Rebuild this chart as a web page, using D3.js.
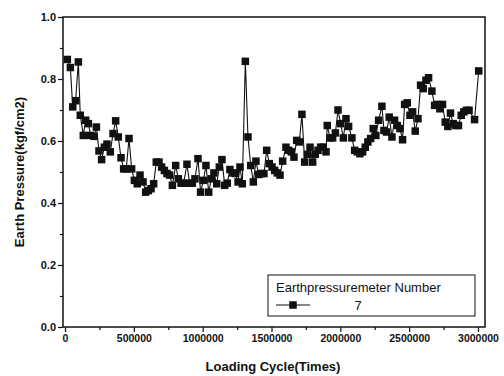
<!DOCTYPE html>
<html>
<head>
<meta charset="utf-8">
<script src="https://cdn.jsdelivr.net/npm/d3@7"></script>
<style>
  body { margin: 0; background: #fff; }
  svg { display: block; font-family: 'Liberation Sans', Arial, sans-serif; }
</style>
</head>
<body>
<div id="chart"></div>
<script>
// Loading cycles (times)
const cycles = [
  17000, 39000, 56000, 77000, 97000, 111000, 133000, 150000, 170000, 186000,
  211000, 228000, 247000, 266000, 286000, 305000, 329000, 349000, 368000, 387000,
  407000, 426000, 445000, 465000, 484000, 504000, 525000, 545000, 567000, 586000,
  605000, 625000, 644000, 663000, 683000, 702000, 722000, 741000, 760000, 780000,
  804000, 823000, 843000, 862000, 886000, 905000, 925000, 944000, 966000, 985000,
  1005000, 1024000, 1044000, 1063000, 1082000, 1102000, 1121000, 1140000, 1160000, 1179000,
  1198000, 1218000, 1237000, 1257000, 1271000, 1288000, 1310000, 1329000, 1349000, 1368000,
  1387000, 1407000, 1426000, 1445000, 1465000, 1484000, 1504000, 1523000, 1542000, 1562000,
  1581000, 1605000, 1625000, 1644000, 1663000, 1683000, 1702000, 1721000, 1741000, 1760000,
  1780000, 1799000, 1818000, 1838000, 1857000, 1876000, 1896000, 1905000, 1925000, 1944000,
  1964000, 1983000, 2002000, 2022000, 2041000, 2060000, 2084000, 2104000, 2123000, 2142000,
  2162000, 2181000, 2200000, 2220000, 2239000, 2258000, 2278000, 2302000, 2317000, 2336000,
  2355000, 2375000, 2394000, 2413000, 2433000, 2452000, 2467000, 2486000, 2506000, 2525000,
  2544000, 2564000, 2583000, 2602000, 2622000, 2641000, 2665000, 2685000, 2704000, 2723000,
  2742000, 2762000, 2781000, 2800000, 2820000, 2839000, 2858000, 2878000, 2897000, 2916000,
  2935000, 2975000, 3005000
];

// Earth pressure (kgf/cm2), meter number 7
const pressure = [
  0.863, 0.837, 0.710, 0.730, 0.855, 0.683, 0.618, 0.667, 0.656, 0.618,
  0.615, 0.645, 0.568, 0.540, 0.580, 0.590, 0.565, 0.624, 0.665, 0.613,
  0.546, 0.510, 0.510, 0.608, 0.510, 0.473, 0.462, 0.490, 0.468, 0.435,
  0.440, 0.446, 0.462, 0.532, 0.532, 0.516, 0.505, 0.495, 0.490, 0.457,
  0.521, 0.478, 0.464, 0.464, 0.525, 0.464, 0.464, 0.478, 0.543, 0.435,
  0.473, 0.521, 0.435, 0.478, 0.497, 0.462, 0.516, 0.540, 0.457, 0.464,
  0.508, 0.497, 0.495, 0.468, 0.516, 0.462, 0.857, 0.613, 0.521, 0.468,
  0.535, 0.492, 0.495, 0.495, 0.570, 0.527, 0.516, 0.505, 0.497, 0.490,
  0.535, 0.580, 0.570, 0.565, 0.548, 0.602, 0.597, 0.686, 0.532, 0.557,
  0.580, 0.532, 0.557, 0.570, 0.580, 0.580, 0.565, 0.650, 0.610, 0.610,
  0.626, 0.700, 0.656, 0.610, 0.672, 0.647, 0.610, 0.570, 0.565, 0.559,
  0.565, 0.580, 0.597, 0.608, 0.640, 0.618, 0.667, 0.712, 0.634, 0.629,
  0.677, 0.613, 0.667, 0.650, 0.640, 0.604, 0.718, 0.723, 0.683, 0.694,
  0.632, 0.672, 0.780, 0.769, 0.796, 0.804, 0.761, 0.715, 0.718, 0.704,
  0.718, 0.661, 0.647, 0.690, 0.656, 0.650, 0.650, 0.683, 0.694, 0.699,
  0.699, 0.669, 0.826
];

const xTicks = [0, 500000, 1000000, 1500000, 2000000, 2500000, 3000000];
const yTicks = [0.0, 0.2, 0.4, 0.6, 0.8, 1.0];

const width = 504;
const height = 376;
const margin = { top: 17, right: 19, bottom: 49, left: 63 };

const data = cycles.map((c, i) => ({ x: c, y: pressure[i] }));

const svg = d3.select('#chart')
  .append('svg')
  .attr('width', width)
  .attr('height', height);

const x = d3.scaleLinear()
  .domain([-14500, 3050800])
  .range([margin.left, width - margin.right]);

const y = d3.scaleLinear()
  .domain([0, 1])
  .range([height - margin.bottom, margin.top]);

// minor ticks first so the majors sit on top
svg.append('g')
  .attr('transform', `translate(0,${height - margin.bottom})`)
  .call(d3.axisBottom(x).tickValues(d3.range(250000, 3000001, 500000)).tickSize(3).tickFormat(''))
  .call((g) => g.select('.domain').remove());

svg.append('g')
  .attr('transform', `translate(${margin.left},0)`)
  .call(d3.axisLeft(y).tickValues(d3.range(0.1, 1, 0.2)).tickSize(3).tickFormat(''))
  .call((g) => g.select('.domain').remove());

const xAxis = svg.append('g')
  .attr('transform', `translate(0,${height - margin.bottom})`)
  .call(d3.axisBottom(x).tickValues(xTicks).tickSize(5).tickPadding(3).tickFormat(d3.format('d')));
xAxis.select('.domain').remove();
xAxis.selectAll('text')
  .style('font-size', '10.5px')
  .style('font-weight', 'bold')
  .attr('fill', '#111');

const yAxis = svg.append('g')
  .attr('transform', `translate(${margin.left},0)`)
  .call(d3.axisLeft(y).tickValues(yTicks).tickSize(5).tickPadding(2).tickFormat(d3.format('.1f')));
yAxis.select('.domain').remove();
yAxis.selectAll('text')
  .style('font-size', '11px')
  .style('font-weight', 'bold')
  .attr('fill', '#111');

svg.selectAll('.tick line').attr('stroke', '#111').attr('stroke-width', 1.2);

// frame
svg.append('rect')
  .attr('x', margin.left)
  .attr('y', margin.top)
  .attr('width', width - margin.left - margin.right)
  .attr('height', height - margin.top - margin.bottom)
  .attr('fill', 'none')
  .attr('stroke', '#111')
  .attr('stroke-width', 1.5);

// series
const line = d3.line().x((d) => x(d.x)).y((d) => y(d.y));
svg.append('path')
  .datum(data)
  .attr('d', line)
  .attr('fill', 'none')
  .attr('stroke', '#111')
  .attr('stroke-width', 1.1);

const sq = 7.5;
svg.selectAll('.pt')
  .data(data)
  .enter()
  .append('rect')
  .attr('class', 'pt')
  .attr('x', (d) => x(d.x) - sq / 2)
  .attr('y', (d) => y(d.y) - sq / 2)
  .attr('width', sq)
  .attr('height', sq)
  .attr('fill', '#111');

// axis titles
svg.append('text')
  .attr('x', 273)
  .attr('y', 371)
  .attr('text-anchor', 'middle')
  .style('font-size', '13px')
  .style('font-weight', 'bold')
  .attr('fill', '#111')
  .text('Loading Cycle(Times)');

svg.append('text')
  .attr('transform', 'translate(24,172) rotate(-90)')
  .attr('text-anchor', 'middle')
  .style('font-size', '13px')
  .style('font-weight', 'bold')
  .attr('fill', '#111')
  .text('Earth Pressure(kgf/cm2)');

// legend
const legend = svg.append('g').attr('transform', 'translate(268,275)');
legend.append('rect')
  .attr('width', 207)
  .attr('height', 41)
  .attr('fill', '#fff')
  .attr('stroke', '#111')
  .attr('stroke-width', 1);
legend.append('text')
  .attr('x', 8)
  .attr('y', 17)
  .style('font-size', '13px')
  .attr('fill', '#111')
  .text('Earthpressuremeter Number');
legend.append('line')
  .attr('x1', 8).attr('x2', 42)
  .attr('y1', 30).attr('y2', 30)
  .attr('stroke', '#111')
  .attr('stroke-width', 1.1);
legend.append('rect')
  .attr('x', 25 - sq / 2)
  .attr('y', 30 - sq / 2)
  .attr('width', sq)
  .attr('height', sq)
  .attr('fill', '#111');
legend.append('text')
  .attr('x', 90)
  .attr('y', 35)
  .attr('text-anchor', 'middle')
  .style('font-size', '13px')
  .attr('fill', '#111')
  .text('7');
</script>
</body>
</html>
